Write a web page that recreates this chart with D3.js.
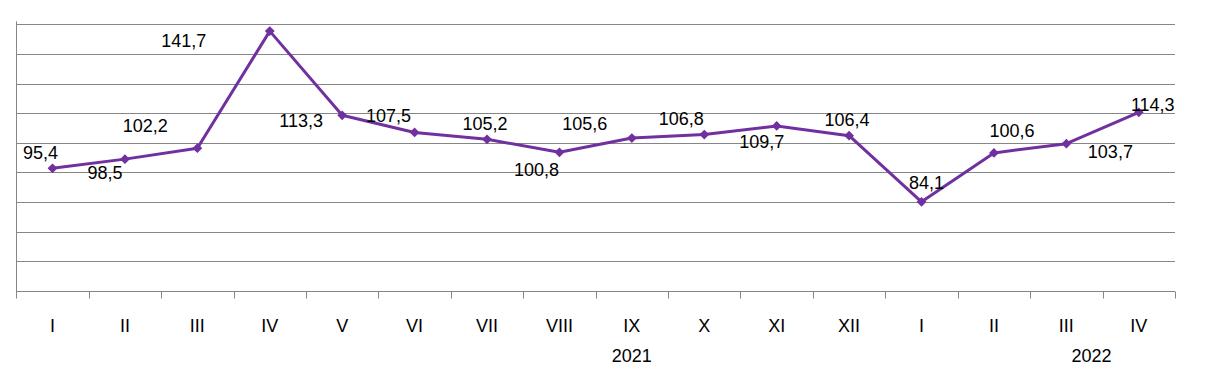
<!DOCTYPE html>
<html>
<head>
<meta charset="utf-8">
<script src="https://cdn.jsdelivr.net/npm/d3@7"></script>
<style>
  html, body { margin: 0; padding: 0; background: #fff; }
  svg { display: block; font-family: "Liberation Sans", Arial, sans-serif; }
</style>
</head>
<body>
<div id="chart"></div>
<script>
// Month labels (roman numerals), Jan 2021 .. Apr 2022
const months = ["I", "II", "III", "IV", "V", "VI", "VII", "VIII", "IX", "X", "XI", "XII", "I", "II", "III", "IV"];
const values = [95.4, 98.5, 102.2, 141.7, 113.3, 107.5, 105.2, 100.8, 105.6, 106.8, 109.7, 106.4, 84.1, 100.6, 103.7, 114.3];
const yearLabels = ["2021", "2022"];

// where each value label sits relative to its point (dx, dy of baseline)
const labelOffsets = [
  [-12, -9], [-20, 20], [-52, -16], [-86, 16], [-41, 12], [-26, -10], [-2, -9], [-23, 24],
  [-47, -8], [-23, -10], [-15, 22], [-2, -10], [5, -13], [18, -16], [44, 14], [14, -1]
];

const width = 1214, height = 387;
const plotLeft = 16.3, plotRight = 1175, plotTop = 24.3, plotBottom = 291;

const svg = d3.select("#chart").append("svg")
  .attr("width", width)
  .attr("height", height);

const idx = d3.range(months.length);

const x = d3.scaleBand().domain(idx).range([plotLeft, plotRight]).paddingInner(0).paddingOuter(0);
const y = d3.scaleLinear().domain([54, 144]).range([plotBottom, plotTop]);

// horizontal gridlines
svg.append("g")
  .selectAll("line")
  .data(d3.range(64, 145, 10))
  .join("line")
  .attr("x1", plotLeft)
  .attr("x2", plotRight)
  .attr("y1", (d) => Math.round(y(d)) + 0.5)
  .attr("y2", (d) => Math.round(y(d)) + 0.5)
  .attr("stroke", "#868686")
  .attr("stroke-width", 1);

// vertical axis line
svg.append("line")
  .attr("x1", Math.round(plotLeft) + 0.5)
  .attr("x2", Math.round(plotLeft) + 0.5)
  .attr("y1", plotTop - 3)
  .attr("y2", plotBottom + 7)
  .attr("stroke", "#868686");

// bottom axis: ticks between categories
const xAxis = svg.append("g").attr("transform", `translate(0,${Math.round(plotBottom) + 0.5})`);
xAxis.append("line")
  .attr("x1", plotLeft).attr("x2", plotRight)
  .attr("stroke", "#868686");
xAxis.selectAll(".tick")
  .data(idx.concat([months.length]))
  .join("line")
  .attr("class", "tick")
  .attr("x1", (d) => Math.round(plotLeft + d * x.step()) + 0.5)
  .attr("x2", (d) => Math.round(plotLeft + d * x.step()) + 0.5)
  .attr("y1", 0)
  .attr("y2", 7)
  .attr("stroke", "#868686");

// month labels
svg.append("g")
  .selectAll("text")
  .data(months)
  .join("text")
  .attr("x", (d, i) => x(i) + x.bandwidth() / 2)
  .attr("y", 332)
  .attr("text-anchor", "middle")
  .attr("font-size", 18)
  .attr("fill", "#000")
  .text((d) => d);

// year labels: 2021 under IX, 2022 between III and IV
const yearPos = [x(8) + x.bandwidth() / 2, x(15) - 11];
svg.append("g")
  .selectAll("text")
  .data(yearLabels)
  .join("text")
  .attr("x", (d, i) => yearPos[i])
  .attr("y", 362)
  .attr("text-anchor", "middle")
  .attr("font-size", 18)
  .attr("fill", "#000")
  .text((d) => d);

// the line
const line = d3.line()
  .x((d, i) => x(i) + x.bandwidth() / 2)
  .y((d) => y(d));

svg.append("path")
  .datum(values)
  .attr("d", line)
  .attr("fill", "none")
  .attr("stroke", "#7030A0")
  .attr("stroke-width", 3)
  .attr("stroke-linejoin", "round");

// diamond markers
svg.append("g")
  .selectAll("path")
  .data(values)
  .join("path")
  .attr("transform", (d, i) => `translate(${x(i) + x.bandwidth() / 2},${y(d)}) rotate(45)`)
  .attr("d", d3.symbol().type(d3.symbolSquare).size(48))
  .attr("fill", "#7030A0");

// value labels
const fmt = (v) => v.toFixed(1).replace(".", ",");
svg.append("g")
  .selectAll("text")
  .data(values)
  .join("text")
  .attr("x", (d, i) => x(i) + x.bandwidth() / 2 + labelOffsets[i][0])
  .attr("y", (d, i) => y(d) + labelOffsets[i][1])
  .attr("text-anchor", "middle")
  .attr("font-size", 18)
  .attr("fill", "#000")
  .text((d) => fmt(d));
</script>
</body>
</html>
